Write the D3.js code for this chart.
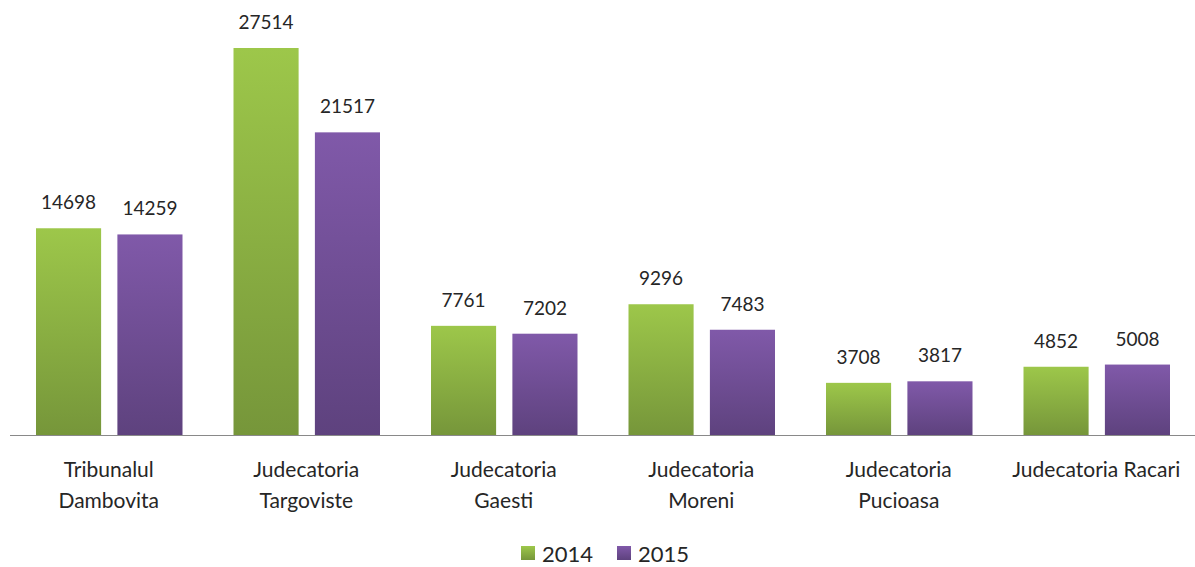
<!DOCTYPE html>
<html lang="ro">
<head>
<meta charset="UTF-8">
<title>Dosare 2014 - 2015</title>
<script src="https://d3js.org/d3.v7.min.js"></script>
<style>
    body { margin: 0; background: #fff; }
    svg text { font-family: Lato, "Open Sans", sans-serif; fill: #262626; }
</style>
</head>
<body>
<svg id="main" width="1195" height="567"></svg>
<script>
    // date
    const categories = ['Tribunalul Dambovita', 'Judecatoria Targoviste', 'Judecatoria Gaesti',
        'Judecatoria Moreni', 'Judecatoria Pucioasa', 'Judecatoria Racari'];
    const catLines = [['Tribunalul', 'Dambovita'], ['Judecatoria', 'Targoviste'], ['Judecatoria', 'Gaesti'],
        ['Judecatoria', 'Moreni'], ['Judecatoria', 'Pucioasa'], ['Judecatoria Racari']];
    const years = ['2014', '2015'];
    const values2014 = [14698, 27514, 7761, 9296, 3708, 4852];
    const values2015 = [14259, 21517, 7202, 7483, 3817, 5008];

    const svg = d3.select('#main');
    const base = 435;
    const colors = {
        '2014': ['#9dc74a', '#76963a'],
        '2015': ['#8059a9', '#5e427e']
    };

    // gradients
    const defs = svg.append('defs');
    years.forEach(function (y) {
        let g = defs.append('linearGradient').attr('id', 'g' + y)
            .attr('x1', 0).attr('y1', 0).attr('x2', 0).attr('y2', 1);
        g.append('stop').attr('offset', '0%').attr('stop-color', colors[y][0]);
        g.append('stop').attr('offset', '100%').attr('stop-color', colors[y][1]);
    });

    const rows = categories.map(function (c, i) {
        return {cat: c, lines: catLines[i], '2014': values2014[i], '2015': values2015[i]};
    });

    const x0 = d3.scaleBand().domain(categories).range([10, 1195]);
    const x1 = d3.scaleBand().domain(years).range([26, x0.bandwidth() - 25]).paddingInner(0.2);
    const y = d3.scaleLinear().domain([0, 27514]).range([base, 48]);

    const groups = svg.selectAll('g.grp')
        .data(rows)
        .enter()
        .append('g')
        .attr('class', 'grp')
        .attr('transform', function (d) { return 'translate(' + x0(d.cat) + ',0)'; });

    groups.selectAll('rect')
        .data(function (d) { return years.map(function (k) { return {key: k, value: d[k]}; }); })
        .enter()
        .append('rect')
        .attr('x', function (d) { return x1(d.key); })
        .attr('width', x1.bandwidth())
        .attr('y', function (d) { return y(d.value); })
        .attr('height', function (d) { return base - y(d.value); })
        .style('fill', function (d) { return 'url(#g' + d.key + ')'; });

    groups.selectAll('text.val')
        .data(function (d) { return years.map(function (k) { return {key: k, value: d[k]}; }); })
        .enter()
        .append('text')
        .attr('class', 'val')
        .attr('x', function (d) { return x1(d.key) + x1.bandwidth() / 2; })
        .attr('y', function (d) { return y(d.value) - 19; })
        .attr('text-anchor', 'middle')
        .style('font-size', '19px')
        .text(function (d) { return d.value; });

    // axis line
    svg.append('line')
        .attr('x1', 10).attr('x2', 1195)
        .attr('y1', base + 0.5).attr('y2', base + 0.5)
        .attr('stroke', '#898989').attr('stroke-width', 1);

    // category labels
    groups.append('text')
        .attr('y', 477)
        .attr('text-anchor', 'middle')
        .style('font-size', '21px')
        .selectAll('tspan')
        .data(function (d) { return d.lines; })
        .enter()
        .append('tspan')
        .attr('x', x0.bandwidth() / 2)
        .attr('dy', function (d, i) { return i === 0 ? 0 : 31; })
        .text(function (d) { return d; });

    // legend
    const legend = svg.append('g').attr('transform', 'translate(521,546)');
    const li = legend.selectAll('g')
        .data(years)
        .enter()
        .append('g')
        .attr('transform', function (d, i) { return 'translate(' + (i * 96) + ',0)'; });
    li.append('rect').attr('width', 14).attr('height', 14)
        .style('fill', function (d) { return 'url(#g' + d + ')'; });
    li.append('text').attr('x', 21).attr('y', 7)
        .attr('dominant-baseline', 'central')
        .style('font-size', '22px')
        .text(function (d) { return d; });
</script>
</body>
</html>
